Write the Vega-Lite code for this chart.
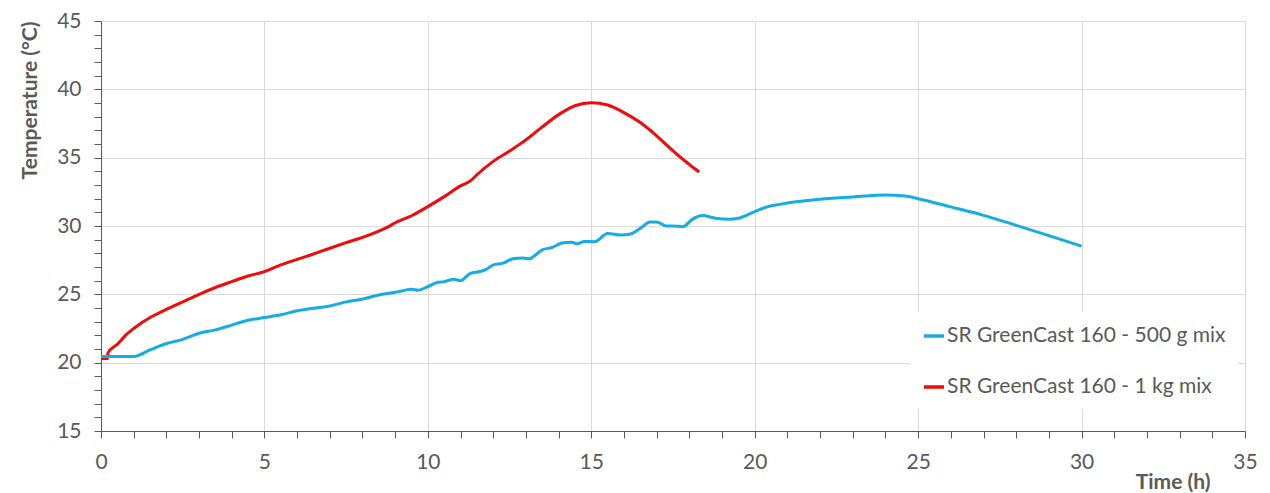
{
  "$schema": "https://vega.github.io/schema/vega-lite/v6.json",
  "width": 1144,
  "height": 410,
  "autosize": {"type": "none"},
  "padding": {"left": 101, "top": 21, "right": 25, "bottom": 62},
  "background": "white",
  "config": {
    "font": "Lato",
    "view": {"stroke": null},
    "axis": {
      "domainColor": "#595959",
      "tickColor": "#595959",
      "labelColor": "#595959",
      "titleColor": "#595959",
      "labelFont": "Lato",
      "titleFont": "Lato",
      "labelFontSize": 21,
      "titleFontSize": 21,
      "titleFontWeight": "bold",
      "gridColor": "#d9d9d9",
      "tickSize": 7
    }
  },
  "data": {
    "values": [
      {"t": 0, "temp": 20.3, "series": "SR GreenCast 160 - 1 kg mix"},
      {"t": 0.2, "temp": 20.3, "series": "SR GreenCast 160 - 1 kg mix"},
      {"t": 0.21, "temp": 20.7, "series": "SR GreenCast 160 - 1 kg mix"},
      {"t": 0.5, "temp": 21.35, "series": "SR GreenCast 160 - 1 kg mix"},
      {"t": 0.75, "temp": 22.0, "series": "SR GreenCast 160 - 1 kg mix"},
      {"t": 1, "temp": 22.5, "series": "SR GreenCast 160 - 1 kg mix"},
      {"t": 1.5, "temp": 23.3, "series": "SR GreenCast 160 - 1 kg mix"},
      {"t": 2, "temp": 23.9, "series": "SR GreenCast 160 - 1 kg mix"},
      {"t": 2.5, "temp": 24.45, "series": "SR GreenCast 160 - 1 kg mix"},
      {"t": 3, "temp": 25.0, "series": "SR GreenCast 160 - 1 kg mix"},
      {"t": 3.5, "temp": 25.5, "series": "SR GreenCast 160 - 1 kg mix"},
      {"t": 4, "temp": 25.93, "series": "SR GreenCast 160 - 1 kg mix"},
      {"t": 4.5, "temp": 26.34, "series": "SR GreenCast 160 - 1 kg mix"},
      {"t": 5, "temp": 26.66, "series": "SR GreenCast 160 - 1 kg mix"},
      {"t": 5.5, "temp": 27.15, "series": "SR GreenCast 160 - 1 kg mix"},
      {"t": 6, "temp": 27.56, "series": "SR GreenCast 160 - 1 kg mix"},
      {"t": 6.5, "temp": 27.95, "series": "SR GreenCast 160 - 1 kg mix"},
      {"t": 7, "temp": 28.37, "series": "SR GreenCast 160 - 1 kg mix"},
      {"t": 7.5, "temp": 28.78, "series": "SR GreenCast 160 - 1 kg mix"},
      {"t": 8, "temp": 29.17, "series": "SR GreenCast 160 - 1 kg mix"},
      {"t": 8.5, "temp": 29.63, "series": "SR GreenCast 160 - 1 kg mix"},
      {"t": 8.8, "temp": 29.95, "series": "SR GreenCast 160 - 1 kg mix"},
      {"t": 9, "temp": 30.24, "series": "SR GreenCast 160 - 1 kg mix"},
      {"t": 9.5, "temp": 30.75, "series": "SR GreenCast 160 - 1 kg mix"},
      {"t": 10, "temp": 31.42, "series": "SR GreenCast 160 - 1 kg mix"},
      {"t": 10.5, "temp": 32.15, "series": "SR GreenCast 160 - 1 kg mix"},
      {"t": 11, "temp": 32.94, "series": "SR GreenCast 160 - 1 kg mix"},
      {"t": 11.3, "temp": 33.3, "series": "SR GreenCast 160 - 1 kg mix"},
      {"t": 11.5, "temp": 33.75, "series": "SR GreenCast 160 - 1 kg mix"},
      {"t": 12, "temp": 34.73, "series": "SR GreenCast 160 - 1 kg mix"},
      {"t": 12.5, "temp": 35.49, "series": "SR GreenCast 160 - 1 kg mix"},
      {"t": 13, "temp": 36.3, "series": "SR GreenCast 160 - 1 kg mix"},
      {"t": 13.5, "temp": 37.25, "series": "SR GreenCast 160 - 1 kg mix"},
      {"t": 14, "temp": 38.15, "series": "SR GreenCast 160 - 1 kg mix"},
      {"t": 14.5, "temp": 38.8, "series": "SR GreenCast 160 - 1 kg mix"},
      {"t": 15, "temp": 39.02, "series": "SR GreenCast 160 - 1 kg mix"},
      {"t": 15.5, "temp": 38.85, "series": "SR GreenCast 160 - 1 kg mix"},
      {"t": 16, "temp": 38.3, "series": "SR GreenCast 160 - 1 kg mix"},
      {"t": 16.5, "temp": 37.57, "series": "SR GreenCast 160 - 1 kg mix"},
      {"t": 17, "temp": 36.6, "series": "SR GreenCast 160 - 1 kg mix"},
      {"t": 17.5, "temp": 35.5, "series": "SR GreenCast 160 - 1 kg mix"},
      {"t": 18, "temp": 34.5, "series": "SR GreenCast 160 - 1 kg mix"},
      {"t": 18.3, "temp": 33.95, "series": "SR GreenCast 160 - 1 kg mix"},

      {"t": 0, "temp": 20.45, "series": "SR GreenCast 160 - 500 g mix"},
      {"t": 1, "temp": 20.45, "series": "SR GreenCast 160 - 500 g mix"},
      {"t": 1.5, "temp": 20.93, "series": "SR GreenCast 160 - 500 g mix"},
      {"t": 2, "temp": 21.4, "series": "SR GreenCast 160 - 500 g mix"},
      {"t": 2.5, "temp": 21.7, "series": "SR GreenCast 160 - 500 g mix"},
      {"t": 3, "temp": 22.15, "series": "SR GreenCast 160 - 500 g mix"},
      {"t": 3.5, "temp": 22.4, "series": "SR GreenCast 160 - 500 g mix"},
      {"t": 4, "temp": 22.75, "series": "SR GreenCast 160 - 500 g mix"},
      {"t": 4.5, "temp": 23.1, "series": "SR GreenCast 160 - 500 g mix"},
      {"t": 5, "temp": 23.3, "series": "SR GreenCast 160 - 500 g mix"},
      {"t": 5.5, "temp": 23.5, "series": "SR GreenCast 160 - 500 g mix"},
      {"t": 6, "temp": 23.8, "series": "SR GreenCast 160 - 500 g mix"},
      {"t": 6.5, "temp": 23.98, "series": "SR GreenCast 160 - 500 g mix"},
      {"t": 7, "temp": 24.15, "series": "SR GreenCast 160 - 500 g mix"},
      {"t": 7.5, "temp": 24.45, "series": "SR GreenCast 160 - 500 g mix"},
      {"t": 8, "temp": 24.65, "series": "SR GreenCast 160 - 500 g mix"},
      {"t": 8.5, "temp": 24.95, "series": "SR GreenCast 160 - 500 g mix"},
      {"t": 9, "temp": 25.15, "series": "SR GreenCast 160 - 500 g mix"},
      {"t": 9.2, "temp": 25.25, "series": "SR GreenCast 160 - 500 g mix"},
      {"t": 9.5, "temp": 25.37, "series": "SR GreenCast 160 - 500 g mix"},
      {"t": 9.7, "temp": 25.3, "series": "SR GreenCast 160 - 500 g mix"},
      {"t": 10, "temp": 25.56, "series": "SR GreenCast 160 - 500 g mix"},
      {"t": 10.3, "temp": 25.88, "series": "SR GreenCast 160 - 500 g mix"},
      {"t": 10.5, "temp": 25.93, "series": "SR GreenCast 160 - 500 g mix"},
      {"t": 10.8, "temp": 26.1, "series": "SR GreenCast 160 - 500 g mix"},
      {"t": 11, "temp": 26.0, "series": "SR GreenCast 160 - 500 g mix"},
      {"t": 11.3, "temp": 26.54, "series": "SR GreenCast 160 - 500 g mix"},
      {"t": 11.6, "temp": 26.67, "series": "SR GreenCast 160 - 500 g mix"},
      {"t": 11.8, "temp": 26.84, "series": "SR GreenCast 160 - 500 g mix"},
      {"t": 12, "temp": 27.16, "series": "SR GreenCast 160 - 500 g mix"},
      {"t": 12.3, "temp": 27.28, "series": "SR GreenCast 160 - 500 g mix"},
      {"t": 12.6, "temp": 27.6, "series": "SR GreenCast 160 - 500 g mix"},
      {"t": 12.9, "temp": 27.65, "series": "SR GreenCast 160 - 500 g mix"},
      {"t": 13.1, "temp": 27.6, "series": "SR GreenCast 160 - 500 g mix"},
      {"t": 13.3, "temp": 27.9, "series": "SR GreenCast 160 - 500 g mix"},
      {"t": 13.5, "temp": 28.26, "series": "SR GreenCast 160 - 500 g mix"},
      {"t": 13.8, "temp": 28.43, "series": "SR GreenCast 160 - 500 g mix"},
      {"t": 14.1, "temp": 28.75, "series": "SR GreenCast 160 - 500 g mix"},
      {"t": 14.4, "temp": 28.82, "series": "SR GreenCast 160 - 500 g mix"},
      {"t": 14.55, "temp": 28.7, "series": "SR GreenCast 160 - 500 g mix"},
      {"t": 14.8, "temp": 28.87, "series": "SR GreenCast 160 - 500 g mix"},
      {"t": 15.1, "temp": 28.85, "series": "SR GreenCast 160 - 500 g mix"},
      {"t": 15.5, "temp": 29.46, "series": "SR GreenCast 160 - 500 g mix"},
      {"t": 15.9, "temp": 29.34, "series": "SR GreenCast 160 - 500 g mix"},
      {"t": 16.2, "temp": 29.41, "series": "SR GreenCast 160 - 500 g mix"},
      {"t": 16.5, "temp": 29.83, "series": "SR GreenCast 160 - 500 g mix"},
      {"t": 16.8, "temp": 30.3, "series": "SR GreenCast 160 - 500 g mix"},
      {"t": 17.0, "temp": 30.3, "series": "SR GreenCast 160 - 500 g mix"},
      {"t": 17.3, "temp": 30.0, "series": "SR GreenCast 160 - 500 g mix"},
      {"t": 17.5, "temp": 30.0, "series": "SR GreenCast 160 - 500 g mix"},
      {"t": 17.8, "temp": 29.95, "series": "SR GreenCast 160 - 500 g mix"},
      {"t": 18.1, "temp": 30.5, "series": "SR GreenCast 160 - 500 g mix"},
      {"t": 18.4, "temp": 30.76, "series": "SR GreenCast 160 - 500 g mix"},
      {"t": 18.8, "temp": 30.57, "series": "SR GreenCast 160 - 500 g mix"},
      {"t": 19.2, "temp": 30.5, "series": "SR GreenCast 160 - 500 g mix"},
      {"t": 19.5, "temp": 30.57, "series": "SR GreenCast 160 - 500 g mix"},
      {"t": 20, "temp": 31.05, "series": "SR GreenCast 160 - 500 g mix"},
      {"t": 20.4, "temp": 31.42, "series": "SR GreenCast 160 - 500 g mix"},
      {"t": 20.8, "temp": 31.6, "series": "SR GreenCast 160 - 500 g mix"},
      {"t": 21.2, "temp": 31.75, "series": "SR GreenCast 160 - 500 g mix"},
      {"t": 22, "temp": 31.96, "series": "SR GreenCast 160 - 500 g mix"},
      {"t": 23, "temp": 32.13, "series": "SR GreenCast 160 - 500 g mix"},
      {"t": 24, "temp": 32.26, "series": "SR GreenCast 160 - 500 g mix"},
      {"t": 24.6, "temp": 32.2, "series": "SR GreenCast 160 - 500 g mix"},
      {"t": 25, "temp": 32.0, "series": "SR GreenCast 160 - 500 g mix"},
      {"t": 26, "temp": 31.4, "series": "SR GreenCast 160 - 500 g mix"},
      {"t": 27, "temp": 30.78, "series": "SR GreenCast 160 - 500 g mix"},
      {"t": 28, "temp": 30.05, "series": "SR GreenCast 160 - 500 g mix"},
      {"t": 29, "temp": 29.3, "series": "SR GreenCast 160 - 500 g mix"},
      {"t": 30, "temp": 28.53, "series": "SR GreenCast 160 - 500 g mix"}
    ]
  },
  "mark": {"type": "line", "strokeWidth": 3, "interpolate": "monotone"},
  "encoding": {
    "x": {
      "field": "t",
      "type": "quantitative",
      "scale": {"domain": [0, 35], "nice": false, "zero": false},
      "axis": {
        "title": "Time (h)",
        "values": [0,1,2,3,4,5,6,7,8,9,10,11,12,13,14,15,16,17,18,19,20,21,22,23,24,25,26,27,28,29,30,31,32,33,34,35],
        "labelExpr": "datum.value % 5 === 0 ? datum.label : ''",
        "grid": true,
        "gridOpacity": {"condition": {"test": "datum.value % 5 === 0", "value": 1}, "value": 0},
        "labelPadding": 13,
        "labelFlush": false,
        "titleAnchor": null,
        "titleX": 1109,
        "titleY": 51,
        "titleAlign": "right",
        "titleBaseline": "middle"
      }
    },
    "y": {
      "field": "temp",
      "type": "quantitative",
      "scale": {"domain": [15, 45], "nice": false, "zero": false},
      "axis": {
        "title": "Temperature (°C)",
        "values": [15,16,17,18,19,20,21,22,23,24,25,26,27,28,29,30,31,32,33,34,35,36,37,38,39,40,41,42,43,44,45],
        "labelExpr": "datum.value % 5 === 0 ? datum.label : ''",
        "grid": true,
        "gridOpacity": {"condition": {"test": "datum.value % 5 === 0", "value": 1}, "value": 0},
        "labelPadding": 13,
        "labelFlush": false,
        "titleAnchor": "end",
        "titlePadding": 16
      }
    },
    "color": {
      "field": "series",
      "type": "nominal",
      "scale": {
        "domain": ["SR GreenCast 160 - 500 g mix", "SR GreenCast 160 - 1 kg mix"],
        "range": ["#16ABE3", "#F20A0A"]
      },
      "legend": {
        "title": null,
        "orient": "none",
        "legendX": 809,
        "legendY": 291,
        "fillColor": "white",
        "padding": 12,
        "symbolType": "stroke",
        "symbolSize": 400,
        "symbolStrokeWidth": 3.5,
        "symbolOffset": 0,
        "labelFont": "Lato",
        "labelFontSize": 21,
        "labelColor": "#595959",
        "labelOffset": 1,
        "labelLimit": 400,
        "rowPadding": 29,
        "symbolOpacity": 1
      }
    }
  }
}
